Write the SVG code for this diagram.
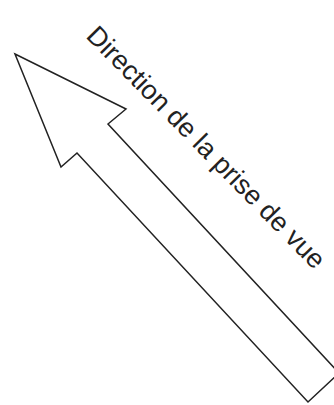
<svg xmlns="http://www.w3.org/2000/svg" width="334" height="405" viewBox="0 0 334 405">
<style>
.arrow{fill:#fff;stroke:#222;stroke-width:1.5;stroke-linejoin:miter}
.lbl{font-family:"Liberation Sans",Arial,sans-serif;font-size:27px;fill:#222}
</style>
<rect width="334" height="405" fill="#fff"/>
<g id="arrow">
<polygon class="arrow" points="15,54 126,109 108,124 339,373 308,402 77,153 61,167"/>
</g>
<g id="label">
<text class="lbl" transform="translate(85,37) rotate(45.5)">Direction de la prise de vue</text>
</g>
</svg>
